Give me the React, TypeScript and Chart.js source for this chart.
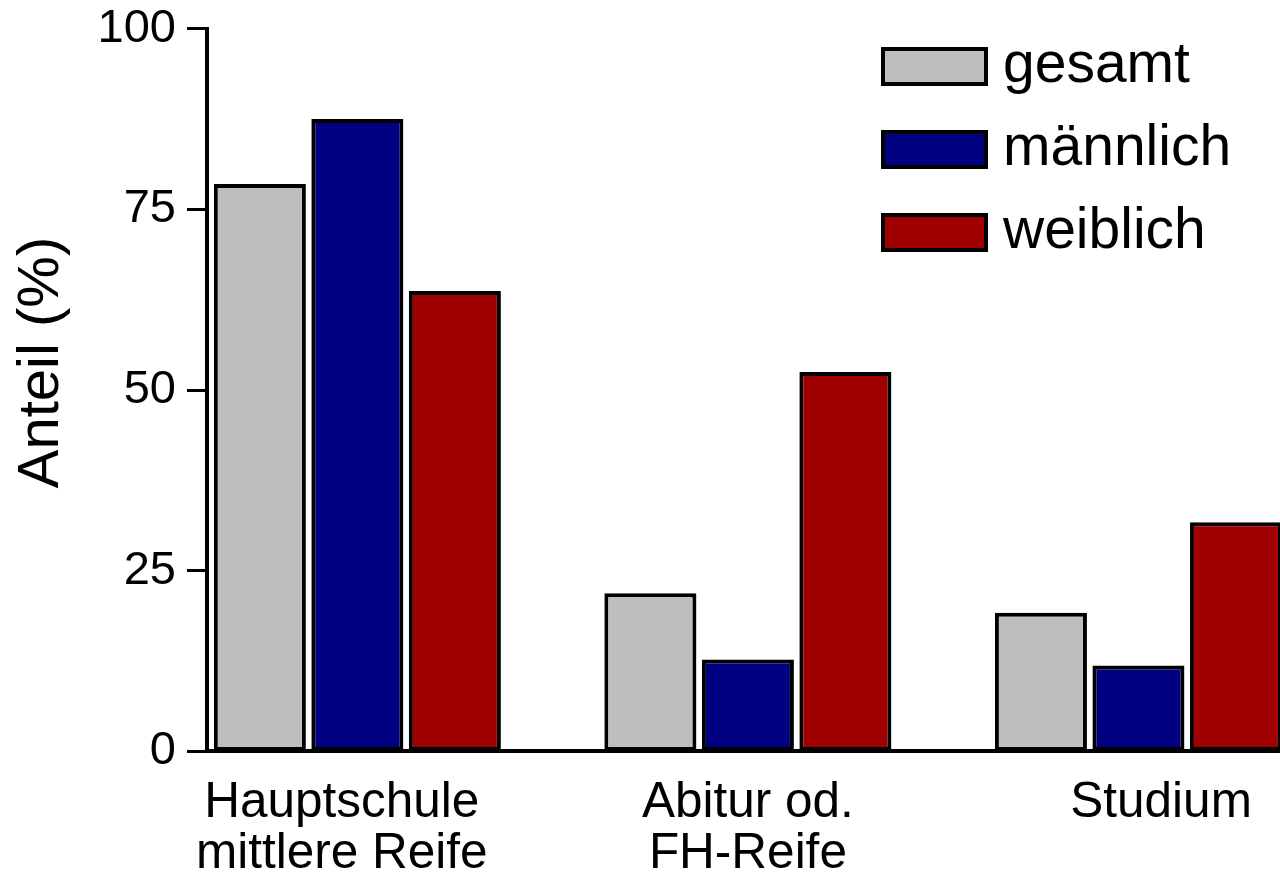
import React, { useEffect, useRef } from "react";
import { Chart, registerables } from "chart.js";

Chart.register(...registerables);

// ---- data ----
const categories: string[][] = [
  ["Hauptschule", "mittlere Reife"],
  ["Abitur od.", "FH-Reife"],
  ["Studium"],
];
const seriesNames: string[] = ["gesamt", "männlich", "weiblich"];
const gesamt: number[] = [78.5, 21.9, 19.2];
const maennlich: number[] = [87.5, 12.7, 11.9];
const weiblich: number[] = [63.7, 52.5, 31.7];
const yTicks: number[] = [0, 25, 50, 75, 100];
const yTitle = "Anteil (%)";

// ---- styles ----
const FONT = "'Liberation Sans', Arial, Helvetica, sans-serif";
const colors = ["#bebebe", "#000080", "#a00000"];
const labelShift = [-0.04, 0, 0.058];

export default function App() {
  const ref = useRef<HTMLCanvasElement>(null);

  useEffect(() => {
    document.body.style.margin = "0";
    const series = [gesamt, maennlich, weiblich];

    const overlay = {
      id: "overlay",
      afterDraw(chart: any) {
        const ctx = chart.ctx;
        ctx.save();
        chart.data.datasets.forEach((ds: any, i: number) => {
          const x = 881;
          const y = 47 + i * 83;
          const w = 107;
          const h = 39;
          ctx.fillStyle = ds.backgroundColor;
          ctx.fillRect(x, y, w, h);
          ctx.lineWidth = 4;
          ctx.strokeStyle = "#000";
          ctx.strokeRect(x + 2, y + 2, w - 4, h - 4);
          ctx.fillStyle = "#000";
          ctx.font = `57px ${FONT}`;
          ctx.textBaseline = "middle";
          ctx.textAlign = "left";
          ctx.fillText(ds.label, 1003, y + h / 2);
        });
        ctx.translate(42, 362.5);
        ctx.rotate(-Math.PI / 2);
        ctx.textAlign = "center";
        ctx.textBaseline = "middle";
        ctx.font = `58px ${FONT}`;
        ctx.fillStyle = "#000";
        ctx.fillText(yTitle, 0, 0);
        ctx.restore();
      },
    };

    const chart = new Chart(ref.current!, {
      type: "bar",
      data: {
        datasets: series.map((vals, s) => ({
          label: seriesNames[s],
          data: vals.map((v, i) => ({ x: i, y: v })),
          backgroundColor: colors[s],
          borderColor: "#000",
          borderWidth: 4,
          borderSkipped: false,
          categoryPercentage: 0.749,
          barPercentage: 0.944,
        })),
      },
      options: {
        animation: false,
        responsive: false,
        layout: { padding: 0 },
        plugins: {
          legend: { display: false },
          tooltip: { enabled: false },
        },
        scales: {
          x: {
            type: "linear",
            min: -0.385,
            max: 2.3625,
            bounds: "data",
            offset: false,
            grid: { display: false, offset: false },
            border: { display: true, color: "#000", width: 4 },
            afterBuildTicks: (axis: any) => {
              axis.ticks = categories.map((_, i) => ({ value: i + labelShift[i] }));
            },
            afterFit: (axis: any) => {
              axis.height = 874 - 751.4;
            },
            ticks: {
              autoSkip: false,
              maxRotation: 0,
              minRotation: 0,
              padding: 18,
              color: "#000",
              font: { family: FONT, size: 49.5, lineHeight: 1.04 },
              callback: (_v: any, i: number) => categories[i],
            },
          },
          y: {
            min: 0,
            max: 100,
            afterBuildTicks: (axis: any) => {
              axis.ticks = yTicks.map((v) => ({ value: v }));
            },
            afterFit: (axis: any) => {
              axis.width = 207;
            },
            grid: {
              drawOnChartArea: false,
              drawTicks: true,
              tickLength: 20,
              tickWidth: 3,
              color: "#000",
            },
            border: { display: true, color: "#000", width: 4 },
            ticks: {
              padding: 11,
              color: "#000",
              font: { family: FONT, size: 47, lineHeight: 0.753 },
            },
          },
        },
      },
      plugins: [overlay],
    } as any);

    return () => chart.destroy();
  }, []);

  return (
    <div style={{ width: 1280, height: 874 }}>
      <canvas ref={ref} width={1280} height={874} style={{ display: "block" }} />
    </div>
  );
}
